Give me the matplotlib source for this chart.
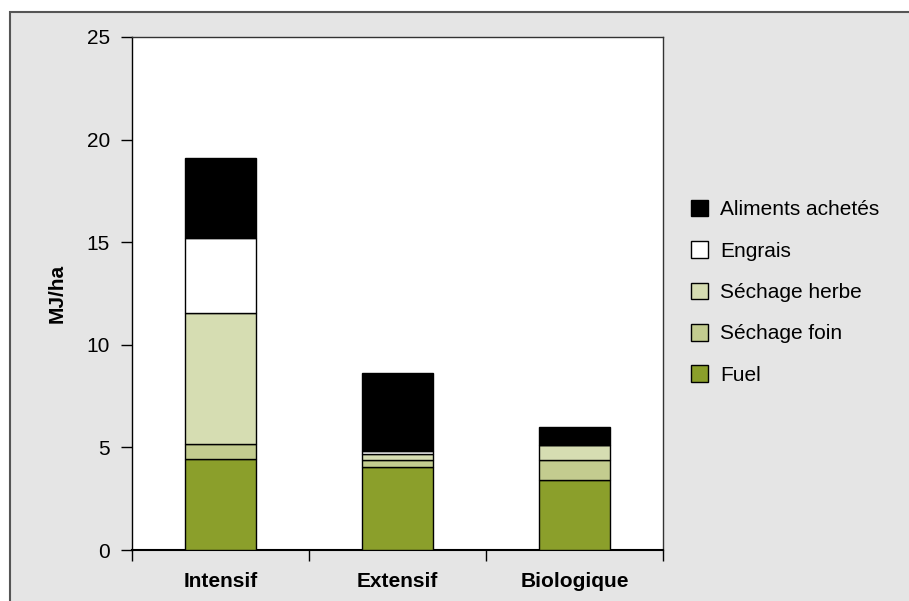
import matplotlib
matplotlib.use("Agg")
import matplotlib.pyplot as plt
from matplotlib.patches import Rectangle, Patch
import numpy as np

plt.rcParams['font.family'] = ['Liberation Sans', 'DejaVu Sans']

categories = ["Intensif", "Extensif", "Biologique"]
series_names = ["Fuel", "Séchage foin", "Séchage herbe", "Engrais", "Aliments achetés"]
fuel = [4.42, 4.06, 3.42]
sechage_foin = [0.73, 0.33, 0.98]
sechage_herbe = [6.41, 0.29, 0.73]
engrais = [3.63, 0.16, 0.0]
aliments = [3.91, 3.80, 0.84]
yticks = [0, 5, 10, 15, 20, 25]

colors = ["#8b9f2b", "#c3cc8f", "#d6ddb2", "#ffffff", "#000000"]
series = [fuel, sechage_foin, sechage_herbe, engrais, aliments]

FS = 15
W, H = 909, 601
fig = plt.figure(figsize=(W / 100, H / 100), dpi=100, facecolor="white")
bg = Rectangle((10 / W, -0.1), 1.2, (H - 12) / H + 0.1, transform=fig.transFigure,
               facecolor="#e5e5e5", edgecolor="#555555", linewidth=1.5, zorder=-10)
fig.patches.append(bg)

ax = fig.add_axes([132 / W, 51 / H, (663 - 132) / W, (550 - 37) / H])
ax.set_zorder(1)
ax.set_facecolor("white")
x = np.arange(len(categories))
bottom = np.zeros(len(categories))
handles = []
for name, vals, c in zip(series_names, series, colors):
    v = np.array(vals)
    ax.bar(x, v, width=0.4, bottom=bottom, color=c, edgecolor="black", linewidth=1.0, zorder=3)
    bottom += v
    handles.append(Patch(facecolor=c, edgecolor="black", linewidth=1.0, label=name))

ax.set_xlim(-0.5, 2.5)
ax.set_ylim(0, 25)
ax.set_yticks(yticks)
ax.set_yticklabels([str(t) for t in yticks], fontsize=FS)
ax.tick_params(axis="y", direction="out", length=8, width=1, pad=8)
ax.set_xticks([-0.5, 0.5, 1.5, 2.5])
ax.set_xticklabels([])
ax.tick_params(axis="x", direction="out", length=8, width=1)
for xi, cat in zip(x, categories):
    ax.text(xi, -1.55, cat, ha="center", va="center", fontsize=FS, fontweight="bold")
for s in ["top", "right"]:
    ax.spines[s].set_linewidth(1.0)
    ax.spines[s].set_color("#333333")
ax.spines["left"].set_linewidth(1.0)
ax.spines["bottom"].set_linewidth(1.5)
ax.set_ylabel("MJ/ha", fontsize=FS, fontweight="bold", labelpad=14)

fig.legend(handles=handles[::-1], loc="upper left", bbox_to_anchor=(672 / W, 1 - 181 / H),
           frameon=False, fontsize=FS, handlelength=0.85, handleheight=0.85,
           labelspacing=1.05, handletextpad=0.55)

fig.savefig("out.png", dpi=100, facecolor=fig.get_facecolor())
